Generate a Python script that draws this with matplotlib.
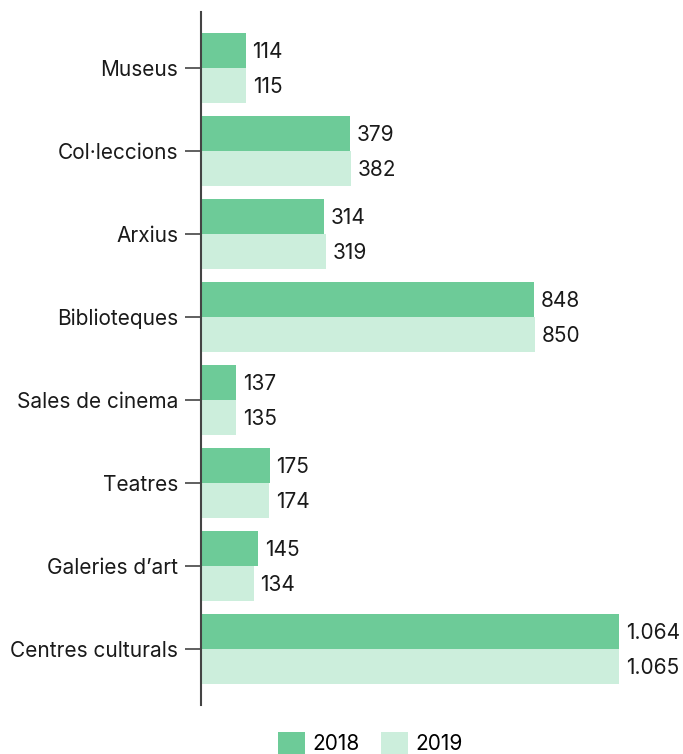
import matplotlib
matplotlib.use('Agg')
import matplotlib.pyplot as plt
import numpy as np

categories = ['Museus', 'Col·leccions', 'Arxius', 'Biblioteques', 'Sales de cinema',
              'Teatres', "Galeries d’art", 'Centres culturals']
# printed values
vals2018 = [114, 379, 314, 848, 137, 175, 145, 1064]
vals2019 = [115, 382, 319, 850, 135, 174, 134, 1065]
# bar lengths as drawn in the original (cinema bars are shorter than their labels)
bars2018 = [114, 379, 314, 848, 89, 175, 145, 1064]
bars2019 = [115, 382, 319, 850, 89, 174, 134, 1065]
years = ['2018', '2019']
colors = ['#6DCB98', '#CCEEDC']

plt.rcParams['font.family'] = ['Inter', 'DejaVu Sans']
fsize = 15

def fmt(v):
    return '{:,}'.format(v).replace(',', '.')

fig = plt.figure(figsize=(6.83, 7.54), dpi=100)
ax = fig.add_axes([0.2943, 0.065, 0.7057, 0.919])

y = np.arange(len(categories))
h = 0.42
b1 = ax.barh(y - h/2, bars2018, height=h, color=colors[0], label=years[0])
b2 = ax.barh(y + h/2, bars2019, height=h, color=colors[1], label=years[1])

for bars, vals in [(b1, vals2018), (b2, vals2019)]:
    for r, v in zip(bars, vals):
        ax.text(r.get_width() + 17, r.get_y() + r.get_height()/2 + 0.02, fmt(v),
                va='center', ha='left', fontsize=fsize, color='#1a1a1a')

ax.set_xlim(0, 1227)
ax.set_ylim(len(categories) - 1 + 0.675, -0.675)
ax.set_yticks(y)
ax.set_yticklabels(categories, fontsize=fsize, color='#1a1a1a')
ax.set_xticks([])
for s in ['top', 'right', 'bottom']:
    ax.spines[s].set_visible(False)
ax.spines['left'].set_color('#444444')
ax.spines['left'].set_linewidth(1.5)
ax.tick_params(axis='y', length=11.5, width=1.2, color='#444444', pad=5)

fig.legend(handles=[b1, b2], labels=years, loc='lower center', ncol=2,
           bbox_to_anchor=(0.542, -0.025), frameon=False, fontsize=fsize,
           handlelength=1.3, handleheight=1.2, handletextpad=0.35, columnspacing=1.0)

fig.savefig('out.png', dpi=100)
